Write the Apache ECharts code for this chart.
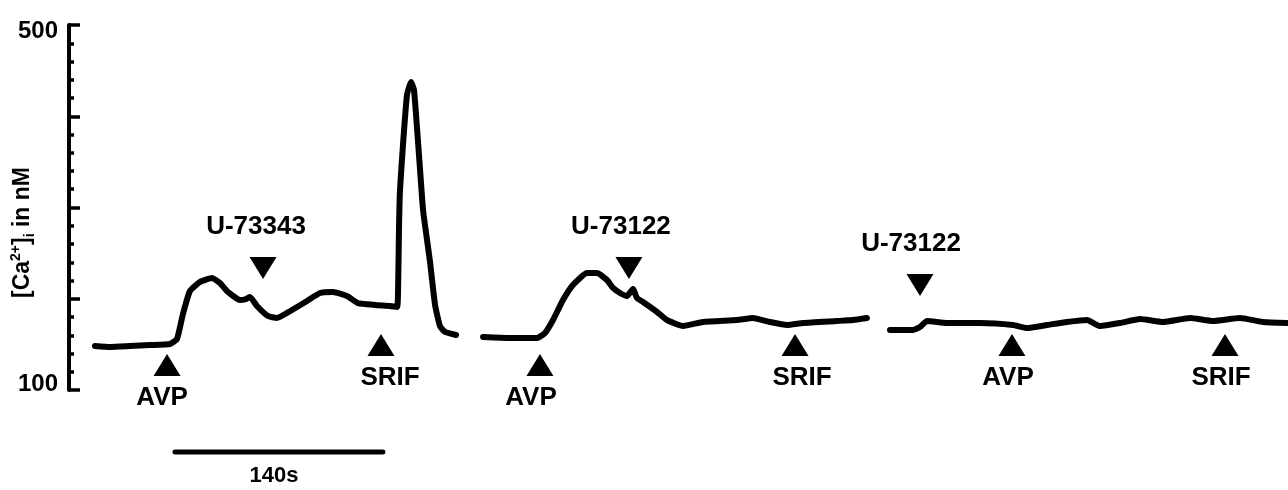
<!DOCTYPE html>
<html>
<head>
<meta charset="utf-8">
<script src="https://cdn.jsdelivr.net/npm/echarts/dist/echarts.min.js"></script>
<style>
  html, body { margin: 0; padding: 0; background: #fff; }
  #chart { width: 1288px; height: 490px; }
</style>
</head>
<body>
<div id="chart"></div>
<script>
// Intracellular calcium traces, time in seconds, [Ca2+]i in nM
const trace1 = [
  [17.5,148.2],[27.6,147.1],[41.1,148.2],[54.5,149.3],[68.0,150.4],[72.7,155.9],
  [76.7,183.3],[81.4,208.5],[88.2,218.4],[96.3,222.7],[101.6,217.3],[107.0,207.4],
  [115.1,198.6],[119.1,199.7],[121.8,201.9],[126.5,192.1],[133.9,181.1],[140.0,178.9],
  [146.7,184.4],[160.2,197.5],[168.9,206.3],[177.7,207.4],[187.1,203.0],[194.5,195.3],
  [206.0,193.2],[216.1,192.1],[220.8,191.0],[221.5,209.6],[222.1,275.3],[222.8,319.2],
  [224.8,368.5],[227.5,423.3],[230.2,437.5],[232.2,428.8],[234.2,388.2],[236.3,341.1],
  [238.3,297.3],[241.0,264.4],[243.0,240.3],[246.4,193.2],[249.7,170.1],[253.1,163.6],
  [260.5,160.3]
];
const trace2 = [
  [278.7,158.1],[296.8,157.0],[315.0,157.0],[320.4,162.5],[325.8,176.7],[332.5,198.6],
  [339.2,215.1],[348.7,228.2],[355.4,228.2],[362.1,220.5],[366.2,211.8],[370.9,206.3],
  [375.6,203.0],[379.6,210.7],[382.3,200.8],[386.4,196.4],[395.8,185.5],[402.5,176.7],
  [413.3,170.1],[426.7,174.5],[449.6,176.7],[460.4,178.9],[471.8,174.5],[483.3,171.2],
  [494.1,173.4],[516.9,175.6],[527.7,176.7],[537.1,178.9]
];
const trace3 = [
  [552.6,165.8],[568.1,165.8],[572.8,169.0],[577.5,175.6],[591.0,173.4],[613.2,173.4],
  [635.4,171.2],[644.8,167.9],[658.3,171.2],[671.8,174.5],[685.2,176.7],[694.0,170.1],
  [707.4,173.4],[720.9,177.8],[736.4,174.5],[754.6,178.9],[770.0,175.6],[788.2,178.9],
  [803.7,174.5],[819.8,173.4]
];

// Drug additions: name, time (s), level of the arrowhead (nM), pointing direction
const eventNames  = ['AVP', 'U-73343', 'SRIF', 'AVP', 'U-73122', 'SRIF', 'U-73122', 'AVP', 'SRIF'];
const eventTimes  = [66.0, 130.6, 210.0, 317.0, 376.9, 488.7, 572.8, 634.7, 778.1];
const eventLevels = [127.4, 233.7, 149.3, 127.4, 233.7, 149.3, 215.1, 149.3, 149.3];
const eventDirs   = ['up', 'down', 'up', 'up', 'down', 'up', 'down', 'up', 'up'];

// Axis range and labelled ticks
const yMin = 100, yMax = 500, yStep = 100;
const yLabelled = [100, 500];
const tMax = 820.5;

// Time scale bar
const scaleStart = 71.3, scaleLength = 140, scaleText = '140s';

const FONT = '"Liberation Sans", Arial, Helvetica, sans-serif';
const labelShift = [-5, -7, 9, -9, -8, 7, -9, -4, -4];

const traceStyle = {
  type: 'line', xAxisIndex: 0, yAxisIndex: 0, symbol: 'none', smooth: 0.15,
  lineStyle: { color: '#000', width: 6, cap: 'round', join: 'round' },
  silent: true
};

const eventItems = eventNames.map((n, i) => {
  const up = eventDirs[i] === 'up';
  return {
    name: n,
    value: [eventTimes[i], eventLevels[i]],
    symbolRotate: up ? 0 : 180,
    label: {
      show: true, formatter: n,
      position: up ? 'bottom' : 'top',
      distance: up ? 9 : 17,
      offset: [labelShift[i], 0]
    }
  };
});

const tickFont = { fontFamily: FONT, fontWeight: 'bold', fontSize: 24, color: '#000' };

const chart = echarts.init(document.getElementById('chart'), null, { renderer: 'canvas' });
chart.setOption({
  animation: false,
  backgroundColor: '#fff',
  grid: [
    { left: 69, right: 0, top: 25, height: 365, outerBoundsMode: 'none', containLabel: false },
    { left: 69, right: 0, top: 442, height: 20, outerBoundsMode: 'none', containLabel: false }
  ],
  xAxis: [
    { type: 'value', gridIndex: 0, min: 0, max: tMax, show: false },
    { type: 'value', gridIndex: 1, min: 0, max: tMax, show: false }
  ],
  yAxis: [
    {
      type: 'value', gridIndex: 0, min: yMin, max: yMax, interval: yStep,
      name: '{b|[Ca}{sup|2+}{b|]}{sub|i}{b| in nM}',
      nameLocation: 'middle', nameRotate: 90, nameGap: 32, nameMoveOverlap: false,
      nameTextStyle: {
        padding: [0, 50, 0, 0],
        rich: {
          b:   { fontFamily: FONT, fontWeight: 'bold', fontSize: 23, color: '#000', lineHeight: 28, verticalAlign: 'middle' },
          sup: { fontFamily: FONT, fontWeight: 'bold', fontSize: 14, color: '#000', lineHeight: 28, verticalAlign: 'top' },
          sub: { fontFamily: FONT, fontWeight: 'bold', fontSize: 14, color: '#000', lineHeight: 28, verticalAlign: 'bottom' }
        }
      },
      axisLine: { show: true, lineStyle: { color: '#000', width: 4 } },
      axisTick: { show: true, inside: true, length: 11, lineStyle: { color: '#000', width: 3.5 } },
      minorTick: { show: true, splitNumber: 5, length: 5, lineStyle: { color: '#000', width: 3.5 } },
      splitLine: { show: false },
      axisLabel: {
        margin: 11,
        formatter: v => {
          if (yLabelled.indexOf(v) < 0) return '';
          return v === yMax ? '{hi|' + v + '}' : '{lo|' + v + '}';
        },
        rich: {
          hi: Object.assign({ padding: [12, 0, 0, 0] }, tickFont),
          lo: Object.assign({ padding: [0, 0, 12, 0] }, tickFont)
        }
      }
    },
    { type: 'value', gridIndex: 1, min: 0, max: 1, show: false }
  ],
  series: [
    Object.assign({ data: trace1 }, traceStyle),
    Object.assign({ data: trace2 }, traceStyle),
    Object.assign({ data: trace3 }, traceStyle),
    {
      type: 'scatter', xAxisIndex: 0, yAxisIndex: 0,
      symbol: 'triangle', symbolSize: [27, 22],
      itemStyle: { color: '#000', opacity: 1 },
      label: { color: '#000', fontFamily: FONT, fontWeight: 'bold', fontSize: 26 },
      data: eventItems, silent: true, z: 5
    },
    {
      type: 'line', xAxisIndex: 1, yAxisIndex: 1, symbol: 'none',
      lineStyle: { color: '#000', width: 5, cap: 'round' },
      data: [[scaleStart, 0.5], [scaleStart + scaleLength, 0.5]], silent: true
    },
    {
      type: 'scatter', xAxisIndex: 1, yAxisIndex: 1, symbolSize: 0,
      itemStyle: { color: '#000', opacity: 1 },
      label: {
        show: true, position: 'bottom', distance: 13, offset: [-5, 0],
        formatter: scaleText, color: '#000', fontFamily: FONT, fontWeight: 'bold', fontSize: 22
      },
      data: [[scaleStart + scaleLength / 2, 0.5]], silent: true
    }
  ]
});
</script>
</body>
</html>
